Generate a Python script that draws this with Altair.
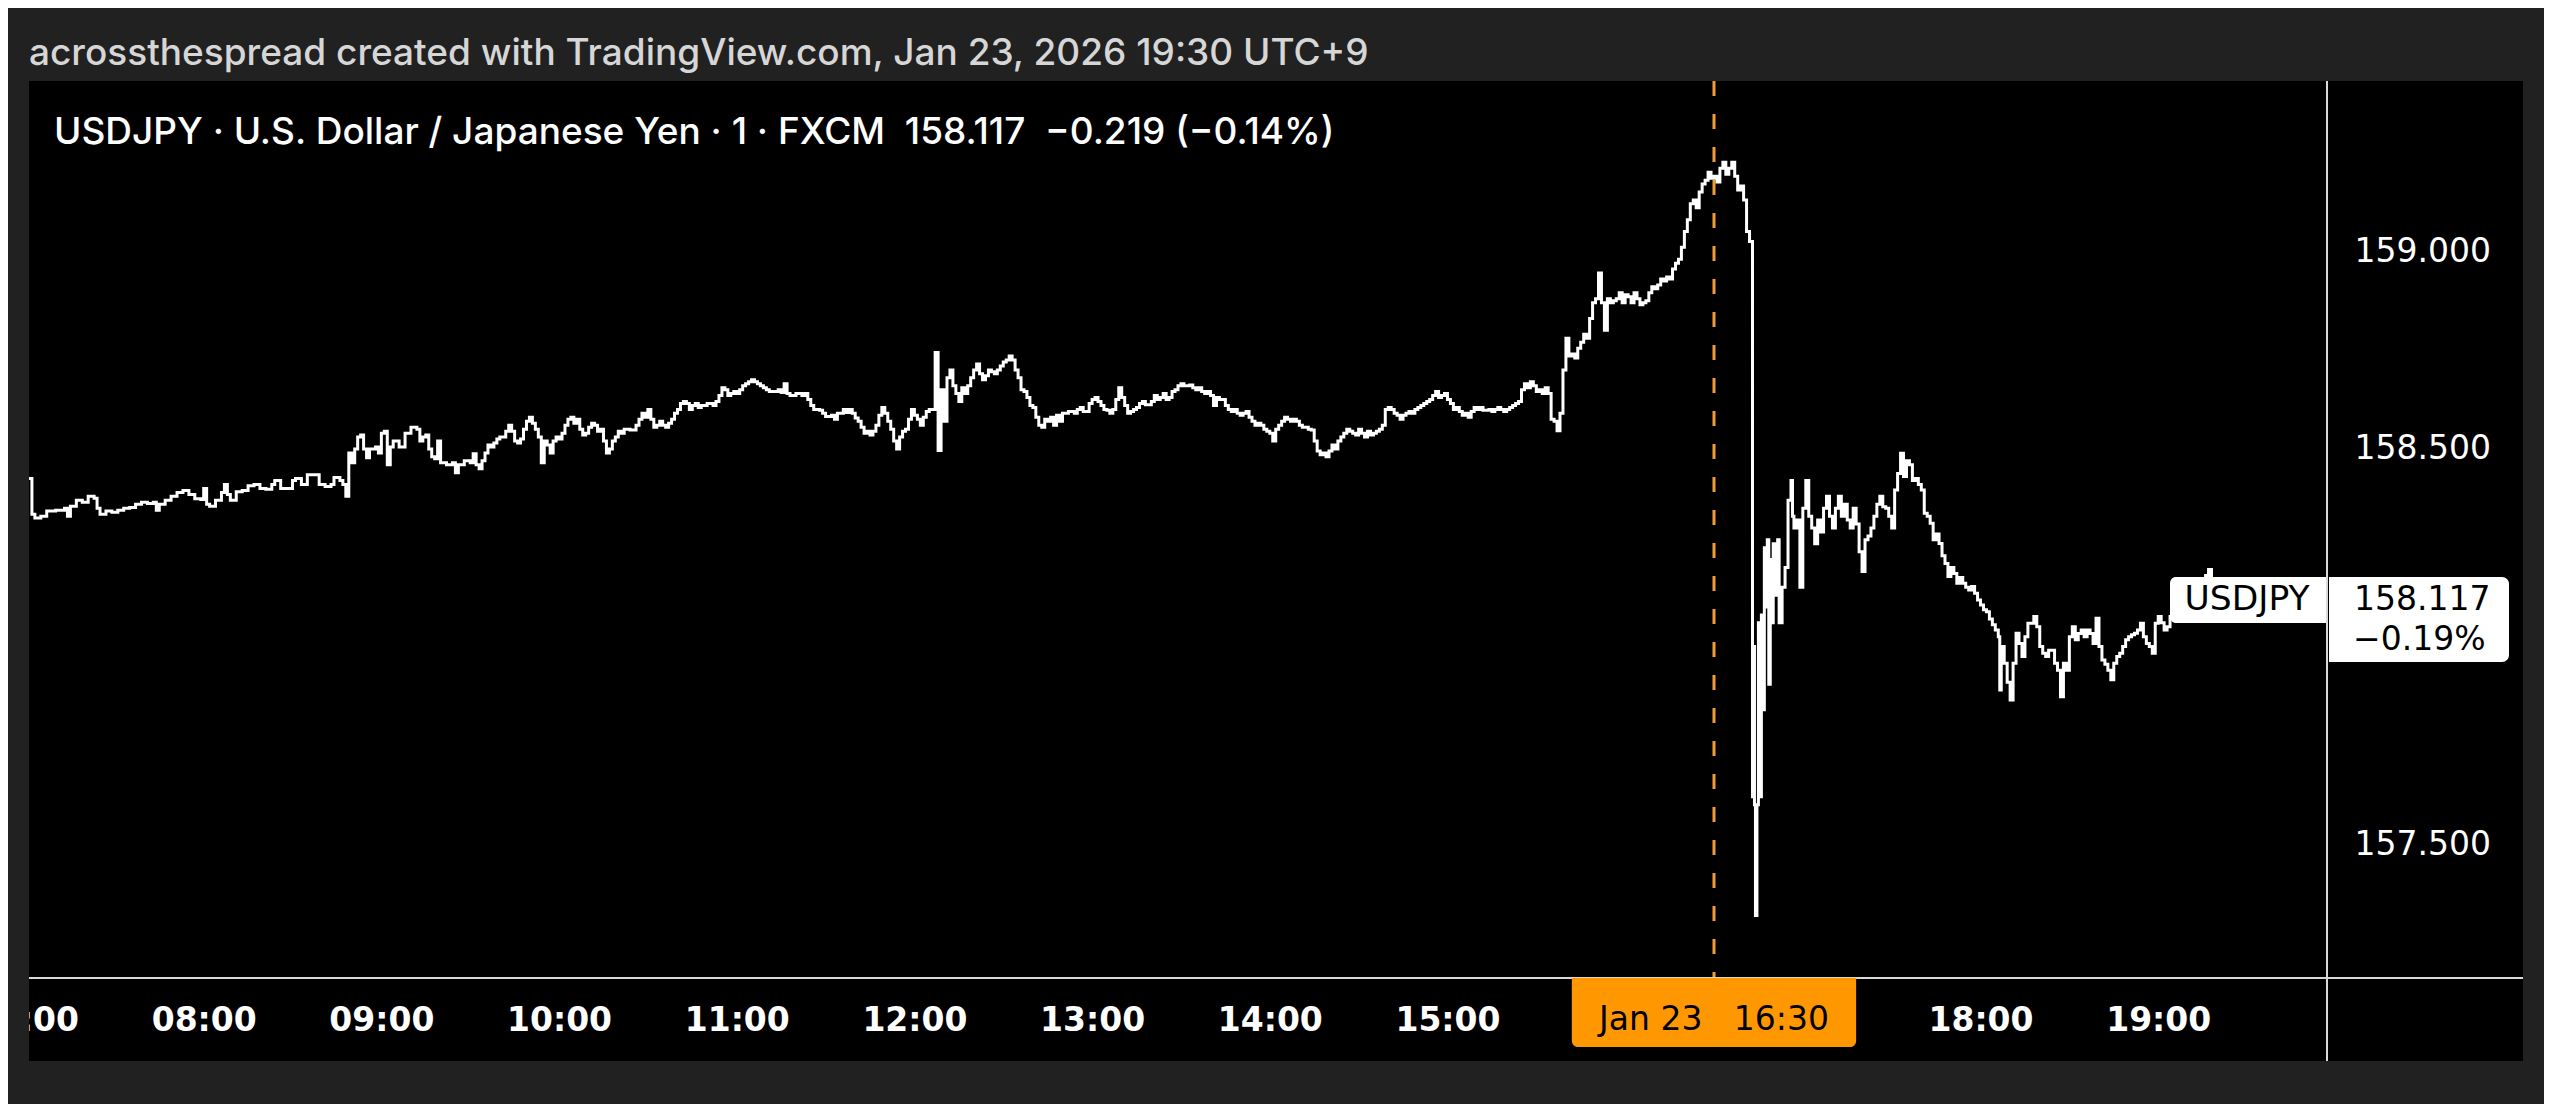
import altair as alt
import pandas as pd

# ---------------- data (minutes after 07:00, price) ----------------
minutes = [
    1, 2, 3, 5, 7, 10, 13, 14, 15, 17, 19, 21, 23, 24, 25, 27, 29, 31, 33, 35, 37, 39, 41, 43, 44, 45, 47, 49,
    51, 53, 55, 57, 59, 60, 61, 62, 64, 66, 67, 68, 69, 71, 73, 75, 77, 79, 81, 83, 84, 86, 88, 90, 91, 93, 95,
    97, 99, 101, 103, 104, 106, 107, 108, 109, 110, 111, 112, 113, 114, 115, 116, 118, 119, 120, 121, 122, 123,
    124, 126, 128, 130, 132, 133, 134, 135, 136, 137, 138, 139, 140, 142, 144, 145, 146, 148, 150, 151, 152,
    153, 154, 155, 156, 157, 158, 159, 160, 162, 163, 164, 165, 166, 167, 168, 169, 170, 171, 172, 173, 174,
    175, 176, 177, 178, 179, 180, 181, 182, 183, 184, 185, 186, 187, 188, 189, 190, 191, 192, 193, 194, 195,
    196, 197, 198, 199, 200, 201, 202, 204, 206, 207, 208, 209, 210, 211, 212, 213, 214, 215, 216, 217, 218,
    219, 220, 221, 222, 223, 224, 225, 226, 227, 228, 230, 232, 233, 234, 235, 236, 237, 238, 239, 240, 241,
    242, 243, 244, 245, 246, 247, 248, 249, 250, 251, 253, 254, 255, 256, 257, 258, 260, 262, 263, 264, 265,
    266, 268, 269, 270, 272, 273, 274, 276, 277, 278, 279, 280, 281, 282, 283, 284, 285, 286, 287, 288, 289,
    290, 291, 292, 293, 294, 295, 296, 297, 298, 299, 300, 301, 302, 303, 304, 305, 306, 307, 308, 309, 310,
    311, 312, 313, 314, 315, 316, 317, 318, 319, 320, 321, 322, 323, 324, 325, 326, 327, 328, 329, 330, 331,
    332, 333, 334, 335, 336, 337, 338, 339, 340, 341, 342, 343, 344, 345, 346, 347, 348, 349, 350, 352, 354,
    355, 356, 357, 359, 360, 361, 362, 363, 364, 365, 366, 367, 368, 369, 370, 371, 372, 373, 374, 375, 376,
    377, 378, 380, 381, 382, 383, 384, 385, 386, 387, 388, 389, 390, 391, 393, 394, 395, 396, 397, 398, 399,
    400, 401, 402, 403, 404, 405, 406, 407, 408, 409, 410, 411, 412, 413, 414, 415, 416, 417, 418, 419, 420,
    421, 422, 423, 424, 425, 426, 427, 428, 429, 430, 431, 432, 433, 434, 435, 436, 437, 438, 439, 440, 441,
    442, 443, 444, 445, 446, 447, 448, 449, 450, 451, 452, 453, 454, 455, 456, 457, 458, 459, 460, 461, 462,
    463, 464, 465, 466, 467, 468, 469, 470, 471, 472, 473, 474, 475, 476, 477, 478, 479, 480, 481, 482, 483,
    484, 485, 486, 487, 488, 489, 490, 491, 492, 494, 495, 496, 497, 498, 499, 500, 501, 502, 503, 504, 505,
    506, 507, 508, 509, 510, 511, 512, 513, 514, 515, 516, 517, 518, 519, 520, 521, 522, 523, 524, 525, 526,
    527, 528, 529, 530, 531, 532, 533, 534, 535, 536, 537, 538, 539, 540, 541, 542, 543, 544, 545, 546, 547,
    548, 549, 550, 551, 552, 553, 554, 555, 556, 557, 558, 559, 560, 561, 562, 563, 564, 565, 566, 567, 568,
    569, 570, 571, 572, 573, 574, 575, 576, 577, 578, 579, 580, 581, 582,
    583, 583.33, 583.67, 584, 584.5, 585, 585.5, 586, 586.5, 587, 587.5, 588, 588.5, 589, 589.5, 590, 591,
    591.5, 592, 593, 594, 595, 596, 596.5, 597, 598, 599, 600, 601, 602, 603, 604, 605, 606, 607, 608, 609,
    610, 611, 612, 613, 614, 615, 616, 617, 618, 619, 620, 621, 622, 623, 624, 625, 626, 627, 628, 629, 630,
    631, 632, 633, 634, 635, 636, 637, 638, 639, 640, 641, 642, 643, 644, 645, 646, 647, 648, 649, 650, 651,
    652, 653, 654, 655, 656, 657, 658, 659, 660, 661, 662, 663, 664, 665, 666, 666.5, 667, 668, 669, 670, 671,
    672, 673, 674, 675, 676, 678, 679, 680, 681, 682, 683, 685, 686, 687, 688, 689, 690, 691, 692, 693, 694,
    695, 696, 697, 698, 699, 700, 701, 702, 703, 704, 705, 706, 707, 708, 709, 710, 711, 712, 713, 714, 715,
    716, 717, 718, 719, 720, 721, 722, 723, 724, 725, 726, 728, 730, 732, 734, 736, 737, 738, 739,
]
prices = [
    158.425, 158.335, 158.325, 158.33, 158.343, 158.345, 158.35, 158.33, 158.355, 158.37, 158.365, 158.38,
    158.375, 158.35, 158.335, 158.343, 158.34, 158.345, 158.35, 158.352, 158.36, 158.365, 158.362, 158.365,
    158.345, 158.36, 158.37, 158.38, 158.39, 158.395, 158.385, 158.374, 158.372, 158.40, 158.36, 158.355,
    158.37, 158.39, 158.41, 158.385, 158.37, 158.392, 158.395, 158.407, 158.41, 158.40, 158.398, 158.41,
    158.42, 158.40, 158.40, 158.42, 158.425, 158.41, 158.435, 158.435, 158.41, 158.405, 158.41, 158.428,
    158.42, 158.41, 158.38, 158.49, 158.465, 158.50, 158.53, 158.535, 158.50, 158.478, 158.50, 158.505,
    158.49, 158.54, 158.545, 158.46, 158.505, 158.52, 158.505, 158.54, 158.555, 158.55, 158.52, 158.53,
    158.535, 158.50, 158.48, 158.475, 158.52, 158.465, 158.46, 158.465, 158.44, 158.46, 158.47, 158.465,
    158.488, 158.46, 158.45, 158.47, 158.49, 158.51, 158.505, 158.515, 158.525, 158.53, 158.545, 158.56,
    158.545, 158.52, 158.515, 158.525, 158.55, 158.57, 158.58, 158.565, 158.55, 158.53, 158.465, 158.52,
    158.51, 158.49, 158.52, 158.53, 158.525, 158.54, 158.56, 158.575, 158.58, 158.565, 158.575, 158.55,
    158.535, 158.54, 158.555, 158.565, 158.56, 158.545, 158.55, 158.52, 158.49, 158.50, 158.52, 158.53,
    158.545, 158.54, 158.55, 158.548, 158.56, 158.575, 158.59, 158.58, 158.60, 158.575, 158.555, 158.56,
    158.57, 158.56, 158.555, 158.565, 158.575, 158.59, 158.60, 158.615, 158.62, 158.615, 158.60, 158.61,
    158.615, 158.605, 158.61, 158.615, 158.61, 158.62, 158.635, 158.655, 158.65, 158.635, 158.64, 158.645,
    158.64, 158.65, 158.66, 158.665, 158.67, 158.675, 158.67, 158.665, 158.66, 158.655, 158.65, 158.645,
    158.645, 158.65, 158.643, 158.665, 158.64, 158.635, 158.64, 158.635, 158.64, 158.625, 158.61, 158.60,
    158.598, 158.59, 158.582, 158.585, 158.575, 158.59, 158.60, 158.592, 158.60, 158.59, 158.578, 158.57,
    158.555, 158.54, 158.545, 158.535, 158.545, 158.56, 158.585, 158.605, 158.59, 158.57, 158.55, 158.52,
    158.50, 158.53, 158.545, 158.55, 158.575, 158.60, 158.585, 158.575, 158.56, 158.58, 158.595, 158.60,
    158.60, 158.744, 158.496, 158.65, 158.57, 158.68, 158.70, 158.66, 158.64, 158.62, 158.655, 158.64,
    158.66, 158.68, 158.70, 158.715, 158.69, 158.675, 158.685, 158.70, 158.695, 158.69, 158.70, 158.71,
    158.72, 158.725, 158.735, 158.725, 158.70, 158.68, 158.65, 158.645, 158.63, 158.61, 158.605, 158.58,
    158.56, 158.555, 158.575, 158.57, 158.58, 158.56, 158.585, 158.57, 158.59, 158.595, 158.59, 158.60,
    158.605, 158.595, 158.615, 158.625, 158.63, 158.62, 158.61, 158.60, 158.598, 158.59, 158.60, 158.625,
    158.655, 158.63, 158.61, 158.59, 158.595, 158.60, 158.605, 158.615, 158.62, 158.612, 158.62, 158.635,
    158.625, 158.63, 158.64, 158.625, 158.63, 158.645, 158.65, 158.66, 158.665, 158.66, 158.662, 158.655,
    158.65, 158.655, 158.645, 158.64, 158.645, 158.635, 158.61, 158.63, 158.625, 158.625, 158.61, 158.60,
    158.595, 158.60, 158.59, 158.585, 158.59, 158.595, 158.58, 158.57, 158.56, 158.565, 158.56, 158.55,
    158.545, 158.54, 158.52, 158.55, 158.56, 158.57, 158.58, 158.575, 158.57, 158.575, 158.57, 158.56,
    158.555, 158.555, 158.55, 158.548, 158.52, 158.495, 158.485, 158.49, 158.48, 158.495, 158.51, 158.50,
    158.52, 158.53, 158.54, 158.55, 158.545, 158.54, 158.535, 158.55, 158.54, 158.53, 158.545, 158.535,
    158.54, 158.545, 158.55, 158.56, 158.60, 158.605, 158.60, 158.59, 158.585, 158.575, 158.585, 158.59,
    158.595, 158.59, 158.60, 158.605, 158.61, 158.615, 158.62, 158.625, 158.635, 158.645, 158.63, 158.635,
    158.64, 158.625, 158.615, 158.60, 158.605, 158.595, 158.585, 158.59, 158.58, 158.595, 158.605, 158.60,
    158.605, 158.598, 158.60, 158.595, 158.60, 158.605, 158.60, 158.595, 158.60, 158.605, 158.61, 158.615,
    158.62, 158.65, 158.665, 158.655, 158.67, 158.66, 158.645, 158.65, 158.64, 158.655, 158.64, 158.575,
    158.57, 158.546, 158.59, 158.70, 158.78, 158.735, 158.74, 158.73, 158.755, 158.77, 158.79, 158.78,
    158.83, 158.87, 158.88, 158.945, 158.87, 158.80, 158.88, 158.87, 158.875, 158.88, 158.895, 158.87,
    158.89, 158.885, 158.87, 158.895, 158.88, 158.865, 158.87, 158.875, 158.895, 158.91, 158.905, 158.915,
    158.93, 158.925, 158.935, 158.93, 158.955, 158.97, 158.98, 159.01, 159.05, 159.08, 159.12, 159.13,
    159.11, 159.15, 159.17, 159.18, 159.20, 159.185, 159.19, 159.175, 159.21, 159.225, 159.195, 159.21,
    159.225, 159.19, 159.155, 159.165, 159.13, 159.05, 159.025,
    157.62, 158.00, 157.60, 157.32, 157.60, 158.06, 157.62, 158.08, 157.84, 158.25, 158.10, 158.27, 157.905,
    158.22, 158.06, 158.26, 158.13, 158.27, 158.06, 158.15, 158.20, 158.37, 158.42, 158.33, 158.30, 158.32,
    158.15, 158.35, 158.42, 158.33, 158.30, 158.26, 158.32, 158.29, 158.35, 158.38, 158.33, 158.30, 158.35,
    158.38, 158.33, 158.36, 158.32, 158.30, 158.35, 158.31, 158.24, 158.19, 158.27, 158.28, 158.30, 158.33,
    158.36, 158.38, 158.354, 158.35, 158.33, 158.30, 158.396, 158.438, 158.489, 158.43, 158.47, 158.46,
    158.42, 158.425, 158.41, 158.396, 158.337, 158.33, 158.312, 158.27, 158.285, 158.261, 158.23, 158.21,
    158.177, 158.20, 158.185, 158.16, 158.175, 158.16, 158.15, 158.143, 158.152, 158.135, 158.118, 158.105,
    158.093, 158.088, 158.07, 158.055, 158.042, 158.025, 157.89, 158.0, 157.958, 157.91, 157.865, 157.958,
    158.034, 158.008, 157.975, 158.025, 158.059, 158.076, 158.05, 158.0, 157.983, 157.975, 157.991, 157.958,
    157.94, 157.873, 157.958, 157.94, 158.025, 158.05, 158.017, 158.033, 158.042, 158.025, 158.042, 158.033,
    158.008, 158.072, 158.0, 157.966, 157.955, 157.94, 157.916, 157.958, 157.975, 157.983, 158.0, 158.017,
    158.025, 158.03, 158.034, 158.042, 158.059, 158.025, 158.008, 158.0, 157.983, 158.059, 158.076, 158.06,
    158.042, 158.05, 158.076, 158.093, 158.10, 158.12, 158.14, 158.15, 158.17, 158.18, 158.195, 158.15,
    158.117,
]

hour_ticks = [7, 8, 9, 10, 11, 12, 13, 14, 15, 18, 19]
price_ticks = [157.5, 158.5, 159.0]
price_domain = [157.1616, 159.4308]
x_end = (19, 57)
crosshair_hm = (16, 30)
crosshair_label = "Jan 23\u00a0\u00a0 16:30"
last_price = 158.117
symbol = "USDJPY"
last_pct = "\u22120.19%"
header_text = "acrossthespread created with TradingView.com, Jan 23, 2026 19:30 UTC+9"
legend_text = ("USDJPY \u00b7 U.S. Dollar / Japanese Yen \u00b7 1 \u00b7 FXCM\u00a0 158.117\u00a0 "
               "\u22120.219 (\u22120.14%)")

# ---------------- build frames ----------------
base = pd.Timestamp("2026-01-23 07:00:00")
fmt = "%Y-%m-%dT%H:%M:%S"
assert len(minutes) == len(prices), (len(minutes), len(prices))
df = pd.DataFrame({
    "t": [(base + pd.Timedelta(minutes=m)).strftime(fmt) for m in minutes],
    "price": prices,
})
ch = base + pd.Timedelta(hours=crosshair_hm[0] - 7, minutes=crosshair_hm[1])
cross_df = pd.DataFrame({
    "t": [ch.strftime(fmt)],
    "t0": [(ch - pd.Timedelta(minutes=48)).strftime(fmt)],
    "t1": [(ch + pd.Timedelta(minutes=48)).strftime(fmt)],
    "label": [crosshair_label],
})
last_df = pd.DataFrame({"price": [last_price], "sym": [symbol],
                        "ptxt": [f"{last_price:.3f}"], "pct": [last_pct]})
header_df = pd.DataFrame({"label": [header_text]})
legend_df = pd.DataFrame({"label": [legend_text]})
one = pd.DataFrame({"k": [0]})


def dt(h, m=0, s=0):
    return alt.DateTime(year=2026, month=1, date=23, hours=h, minutes=m, seconds=s)


W, H = 2301, 897
HFONT = "Inter"
NFONT = "DejaVu Sans"
BG = "#212121"

xscale = alt.Scale(domain=[dt(7, 0), dt(*x_end)], nice=False)
yscale = alt.Scale(domain=price_domain, nice=False, zero=False)

# x axis sits behind the marks (zindex 0) so the panel frame clips the 07:00 label like the reference
x_axis = alt.Axis(
    values=[dt(h) for h in hour_ticks], format="%H:%M", title=None,
    ticks=False, tickSize=0, domain=False, grid=False, zindex=0,
    labelFont=NFONT, labelFontSize=33, labelFontWeight="bold", labelColor="#ffffff",
    labelBaseline="middle", labelPadding=42, labelOverlap=False, labelFlush=False,
)
y_axis = alt.Axis(
    orient="right", values=price_ticks, format=".3f", title=None,
    ticks=False, tickSize=0, domain=False, grid=False, zindex=1,
    labelFont=NFONT, labelFontSize=33, labelColor="#ffffff",
    labelAlign="left", labelBaseline="middle", labelPadding=27, labelOverlap=False, labelFlush=False,
)

cross_rule = alt.Chart(cross_df).mark_rule(
    color="#f29c38", strokeWidth=3, strokeDash=[15, 18]
).encode(
    x=alt.X("t:T", scale=xscale, axis=x_axis),
    y=alt.value(0), y2=alt.value(H),
)

line = alt.Chart(df).mark_line(
    color="#ffffff", strokeWidth=3, interpolate="step-after"
).encode(
    x=alt.X("t:T", scale=xscale, axis=x_axis),
    y=alt.Y("price:Q", scale=yscale, axis=y_axis),
)

x_line = alt.Chart(one).mark_rule(color="#d9d9d9", strokeWidth=2).encode(
    x=alt.value(0), x2=alt.value(2497), y=alt.value(H)
)
sep_line = alt.Chart(one).mark_rule(color="#d9d9d9", strokeWidth=2).encode(
    x=alt.value(W), y=alt.value(0), y2=alt.value(980)
)

cross_box = alt.Chart(cross_df).mark_rect(
    color="#ff9800", cornerRadiusBottomLeft=6, cornerRadiusBottomRight=6
).encode(
    x=alt.X("t0:T", scale=xscale, axis=x_axis), x2="t1:T",
    y=alt.value(H), y2=alt.value(966),
)
cross_text = alt.Chart(cross_df).mark_text(
    font=NFONT, fontSize=33, color="#000000", baseline="middle", align="center"
).encode(
    x=alt.X("t:T", scale=xscale, axis=x_axis), y=alt.value(939), text="label:N"
)

sym_box = alt.Chart(last_df).mark_rect(
    color="#ffffff", cornerRadiusTopLeft=6, cornerRadiusBottomLeft=6
).encode(x=alt.value(2144), x2=alt.value(W - 1), y=alt.value(496), y2=alt.value(542))
sym_text = alt.Chart(last_df).mark_text(
    font=NFONT, fontSize=34.5, color="#000000", baseline="middle", align="center"
).encode(x=alt.value(2221), y=alt.Y("price:Q", scale=yscale, axis=y_axis), text="sym:N")

price_box = alt.Chart(last_df).mark_rect(
    color="#ffffff", cornerRadiusTopRight=7, cornerRadiusBottomRight=7
).encode(x=alt.value(W + 2), x2=alt.value(2483), y=alt.value(496), y2=alt.value(581))
price_text = alt.Chart(last_df).mark_text(
    font=NFONT, fontSize=33, color="#000000", baseline="middle", align="left"
).encode(x=alt.value(2328), y=alt.Y("price:Q", scale=yscale, axis=y_axis), text="ptxt:N")
pct_text = alt.Chart(last_df).mark_text(
    font=NFONT, fontSize=33, color="#000000", baseline="middle", align="left", dy=40
).encode(x=alt.value(2327), y=alt.Y("price:Q", scale=yscale, axis=y_axis), text="pct:N")

# page frame around the black panel
frames = [
    (-18, 2518, -73, 0),
    (-18, 3, 0, 1023),
    (2497, 2518, 0, 1023),
    (-18, 2518, 980, 1023),
]
frame_layers = [
    alt.Chart(one).mark_rect(color=BG).encode(
        x=alt.value(a), x2=alt.value(b), y=alt.value(c), y2=alt.value(d))
    for a, b, c, d in frames
]

header = alt.Chart(header_df).mark_text(
    font=HFONT, fontSize=37, fontWeight=500, color="#d6d6d6", align="left", baseline="middle"
).encode(x=alt.value(3), y=alt.value(-27), text="label:N")
legend = alt.Chart(legend_df).mark_text(
    font=HFONT, fontSize=37, fontWeight=500, color="#ffffff", align="left", baseline="middle"
).encode(x=alt.value(28), y=alt.value(52), text="label:N")

chart = alt.layer(
    line, cross_rule, x_line, sep_line, cross_box, cross_text,
    sym_box, sym_text, price_box, price_text, pct_text,
    *frame_layers, header, legend,
).properties(
    width=W, height=H,
    autosize=alt.AutoSizeParams(type="none"),
    padding={"left": 18, "top": 73, "right": 217, "bottom": 126},
    background="#000000",
).configure_view(stroke=None)

chart.save("out.html", embed_options={"renderer": "svg", "actions": False})
